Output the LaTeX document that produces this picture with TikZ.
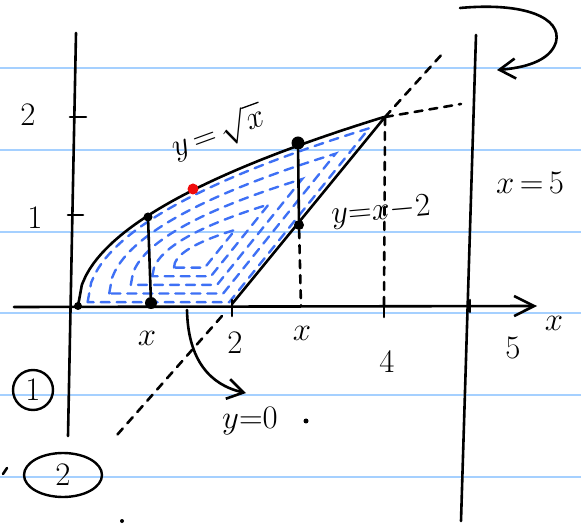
\documentclass[tikz,border=0pt]{standalone}
\usepackage{graphicx}
\usetikzlibrary{arrows.meta,shapes.geometric}
\definecolor{hatchblue}{RGB}{62,112,245}
\definecolor{ruleblue}{RGB}{165,208,255}
\definecolor{reddot}{RGB}{240,12,12}
\newcommand{\hwtext}[1]{\scalebox{1.9}{$#1$}}
\newcommand{\sqrtcurve}{plot[domain=0:4, samples=80] ({78+76.5*\x},{306-94.5*sqrt(\x)})}
\begin{document}
\begin{tikzpicture}[x=1pt,y=-1pt,
  ink/.style={line width=2.6pt, line cap=round, line join=round},
  inkdash/.style={ink, dash pattern=on 8pt off 7pt},
  hatch/.style={draw=hatchblue, line width=2.4pt, dash pattern=on 9pt off 7pt, line cap=round},
  rulel/.style={draw=ruleblue, line width=1.6pt},
  lbl/.style={font=\LARGE, inner sep=0pt},
  dotn/.style={circle, fill=black, inner sep=0pt, minimum size=#1},
  barb/.style={-{Straight Barb[length=#1, width=20pt]}}]
\useasboundingbox (0,0) rectangle (581,526);
% ruled lines
\foreach \yy in {68,150,232,313,395,477} \draw[rulel] (0,\yy) -- (581,\yy);
% hatching
\foreach \s in {0.92,0.74,0.56,0.38,0.2}
  \draw[hatch, scale around={\s:(198,258)}] \sqrtcurve -- (232,306) -- cycle;
% coordinates
\coordinate (P) at (385,117);
\coordinate (T2) at (232,304);
\coordinate (Xs) at (14,307);
\coordinate (Xe) at (537,306);
\coordinate (Yt) at (76,33);
\coordinate (Yb) at (68,436);
% axes
\draw[ink] (Yt) -- (Yb);
\draw[ink, barb=20pt] (Xs) -- (Xe);
% x = 5 line
\coordinate (Vt) at (476,35);
\coordinate (Vb) at (461,521);
\draw[ink] (Vt) -- (Vb);
% ticks
\draw[ink] (70,117) -- (86,117);
\draw[ink] (68,215) -- (83,215);
\draw[ink] (232,300) -- (232,316);
\draw[ink] (384,306) -- (384,317);
\draw[ink] (470,300) -- (470,312);
% curve y = sqrt x
\draw[ink] \sqrtcurve;
\coordinate (Ce) at (461,104);
\draw[inkdash] (P) -- (Ce);
% line y = x - 2
\draw[ink] (T2) -- (P);
\coordinate (Lt) at (444,52);
\coordinate (Ls) at (222,316);
\coordinate (Lb) at (117,435);
\draw[inkdash] (P) -- (Lt);
\draw[inkdash] (Ls) -- (Lb);
% vertical dashed
\coordinate (F4) at (384,306);
\draw[inkdash] (P) -- (F4);
% dots
\node[dotn=8pt] (O) at (78,306) {};
\node[dotn=9pt] (A) at (148,217) {};
\node[dotn=12pt] (B) at (151,303) {};
\node[dotn=13pt] (C) at (298,143) {};
\node[dotn=10pt] (D) at (299,225) {};
\node[circle, fill=reddot, inner sep=0pt, minimum size=11pt] (R) at (193,189) {};
\coordinate (Dx) at (301,306);
\draw[inkdash] (D) -- (Dx);
\draw[ink] (A) -- (B);
\draw[ink] (C) -- (D);
% curved arrows
\coordinate (Rs) at (460,8);
\coordinate (Re) at (497,70);
\draw[ink, barb=16pt] (Rs) .. controls (525,2) and (562,18) .. (556,42) .. controls (550,62) and (522,68) .. (Re);
\coordinate (As) at (187,310);
\coordinate (Ae) at (246,393);
\draw[ink, barb=16pt] (As) .. controls (188,360) and (210,385) .. (Ae);
% labels
\node[lbl] (l2) at (28,115) {\hwtext{2}};
\node[lbl] (l1) at (35,218) {\hwtext{1}};
\node[lbl, rotate=20] (lsq) at (218,133) {\hwtext{y\,{=}\,\sqrt{x}}};
\node[lbl, rotate=5] (lline) at (381,212) {\hwtext{y{=}x{-}2}};
\node[lbl] (lx5) at (530,183) {\hwtext{x\,{=}\,5}};
\node[lbl] (lxa) at (147,338) {\hwtext{x}};
\node[lbl] (ltwo) at (235,343) {\hwtext{2}};
\node[lbl] (lxb) at (302,333) {\hwtext{x}};
\node[lbl] (lfour) at (387,362) {\hwtext{4}};
\node[lbl] (lxax) at (554,323) {\hwtext{x}};
\node[lbl] (lfive) at (513,348) {\hwtext{5}};
\node[lbl] (ly0) at (250,421) {\hwtext{y{=}0}};
\node[dotn=5pt] (pd1) at (306,421) {};
\node[dotn=4pt] (pd2) at (122,521) {};
\coordinate (Sa) at (3,474);
\coordinate (Sb) at (7,468);
\draw[ink] (Sa) -- (Sb);
% circled numbers
\node[draw, circle, line width=2.4pt, minimum size=40pt, inner sep=0pt, lbl] (c1) at (33,390) {\hwtext{1}};
\node[draw, ellipse, line width=2.4pt, minimum width=78pt, minimum height=44pt, inner sep=0pt, lbl] (c2) at (63,475) {\hwtext{2}};
\end{tikzpicture}
\end{document}
